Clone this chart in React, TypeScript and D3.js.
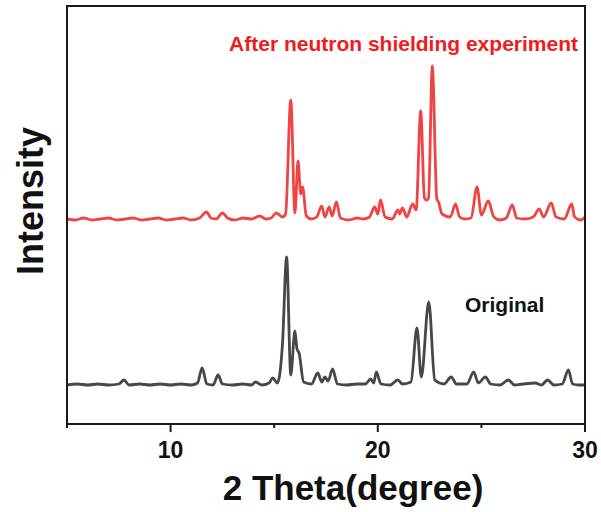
import React from "react";
import * as d3 from "d3";

// 2-theta (degree) vs intensity (a.u.)
const originalTheta = [5.0, 5.5, 6.0, 6.5, 7.0, 7.5, 7.75, 8.0, 8.5, 9.0, 9.5, 10.0, 10.5, 11.0, 11.3, 11.52, 11.75, 12.05, 12.29, 12.5, 13.0, 13.5, 13.9, 14.1, 14.4, 14.75, 14.93, 15.15, 15.4, 15.6, 15.8, 16.0, 16.1, 16.2, 16.42, 16.8, 17.1, 17.3, 17.45, 17.6, 17.82, 18.05, 18.5, 19.0, 19.4, 19.66, 19.8, 19.93, 20.15, 20.6, 20.96, 21.2, 21.6, 21.89, 22.1, 22.46, 22.75, 23.2, 23.54, 23.8, 24.3, 24.63, 24.85, 25.19, 25.45, 25.9, 26.3, 26.6, 27.0, 27.6, 27.9, 28.19, 28.5, 28.9, 29.2, 29.4, 29.7, 30.0];
const originalIntensity = [39, 40, 39, 40, 39, 40, 44, 39, 40, 39, 40, 39, 40, 39, 41, 56, 40, 39, 49, 40, 39, 40, 39, 42, 39, 41, 46, 41, 80, 167, 49, 93, 75, 71, 42, 40, 51, 42, 47, 43, 55, 40, 39, 40, 40, 45, 41, 52, 40, 39, 44, 40, 42, 96, 47, 122, 44, 40, 47, 40, 40, 52, 41, 47, 40, 39, 44, 39, 40, 41, 39, 44, 39, 40, 54, 40, 39, 39];

const afterTheta = [5.0, 5.4, 5.8, 6.2, 6.6, 7.0, 7.4, 7.8, 8.2, 8.6, 9.0, 9.4, 9.8, 10.2, 10.6, 11.0, 11.4, 11.73, 11.95, 12.2, 12.5, 12.75, 13.1, 13.5, 13.9, 14.3, 14.6, 14.85, 15.1, 15.4, 15.55, 15.8, 16.0, 16.15, 16.28, 16.37, 16.55, 16.8, 17.05, 17.29, 17.45, 17.65, 17.8, 18.0, 18.2, 18.6, 19.0, 19.3, 19.6, 19.85, 20.0, 20.13, 20.35, 20.7, 20.97, 21.05, 21.19, 21.4, 21.68, 21.85, 22.07, 22.25, 22.34, 22.45, 22.63, 22.85, 22.93, 23.1, 23.5, 23.75, 23.95, 24.2, 24.5, 24.79, 25.0, 25.33, 25.6, 25.9, 26.2, 26.49, 26.7, 27.1, 27.5, 27.79, 28.0, 28.37, 28.6, 29.0, 29.36, 29.5, 29.8, 30.0];
const afterIntensity = [205, 204, 206, 204, 205, 206, 204, 205, 206, 204, 205, 206, 204, 205, 206, 204, 206, 212, 206, 205, 211, 206, 204, 206, 205, 208, 205, 206, 211, 207, 210, 324, 211, 263, 230, 237, 208, 205, 207, 218, 207, 217, 208, 222, 206, 204, 206, 205, 207, 217, 210, 224, 207, 205, 214, 210, 216, 207, 220, 214, 313, 226, 224, 226, 358, 225, 222, 210, 207, 220, 207, 205, 206, 237, 209, 223, 207, 204, 206, 219, 206, 205, 207, 215, 207, 221, 207, 205, 220, 207, 204, 207];

const xTicks = [10, 20, 30];
const xMinorTicks = [5, 15, 25];

const W = 601;
const H = 512;
const left = 67;
const right = 585;
const top = 6;
const bottom = 424;

const FONT = "'Liberation Sans', Arial, sans-serif";

export default function App() {
  const x = d3.scaleLinear().domain([5, 30]).range([left, right]);
  const y = d3.scaleLinear().domain([0, 418]).range([bottom, top]);

  const line = d3
    .line<[number, number]>()
    .x((d) => x(d[0]))
    .y((d) => y(d[1]))
    .curve(d3.curveMonotoneX);

  const orig: [number, number][] = originalTheta.map((t, i) => [t, originalIntensity[i]]);
  const after: [number, number][] = afterTheta.map((t, i) => [t, afterIntensity[i]]);

  return (
    <svg
      width={W}
      height={H}
      style={{ position: "absolute", left: 0, top: 0, display: "block", background: "#fff" }}
    >
      <defs>
        <clipPath id="plotclip">
          <rect x={left} y={top} width={right - left} height={bottom - top} />
        </clipPath>
      </defs>
      <g clipPath="url(#plotclip)">
        <path d={line(orig) || ""} fill="none" stroke="#474747" strokeWidth={2.8} strokeLinejoin="round" />
        <path d={line(after) || ""} fill="none" stroke="#f04444" strokeWidth={2.8} strokeLinejoin="round" />
      </g>
      <rect x={left} y={top} width={right - left} height={bottom - top} fill="none" stroke="#1a1a1a" strokeWidth={2} />
      {xTicks.map((t) => (
        <g key={"M" + t}>
          <line x1={x(t)} x2={x(t)} y1={bottom} y2={bottom + 8} stroke="#1a1a1a" strokeWidth={2} />
          <text x={x(t)} y={458} textAnchor="middle" fontFamily={FONT} fontWeight="bold" fontSize={23} fill="#111">
            {t}
          </text>
        </g>
      ))}
      {xMinorTicks.map((t) => (
        <line key={"m" + t} x1={x(t)} x2={x(t)} y1={bottom} y2={bottom + 4} stroke="#1a1a1a" strokeWidth={2} />
      ))}
      <text x={353} y={500} textAnchor="middle" fontFamily={FONT} fontWeight="bold" fontSize={35} fill="#111">
        2 Theta(degree)
      </text>
      <text
        transform={`translate(43,201) rotate(-90)`}
        textAnchor="middle"
        fontFamily={FONT}
        fontWeight="bold"
        fontSize={36}
        fill="#111"
      >
        Intensity
      </text>
      <text x={578} y={51} textAnchor="end" fontFamily={FONT} fontWeight="bold" fontSize={21} fill="#ee1c1c">
        After neutron shielding experiment
      </text>
      <text x={465} y={312} fontFamily={FONT} fontWeight="bold" fontSize={21} fill="#111">
        Original
      </text>
    </svg>
  );
}
